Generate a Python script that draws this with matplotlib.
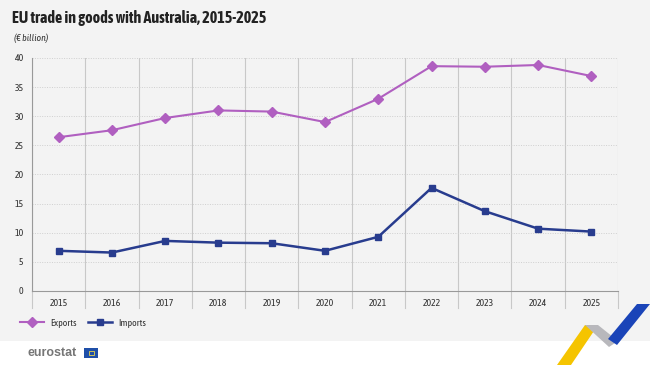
import matplotlib.pyplot as plt
from matplotlib.patches import Polygon, Rectangle

years = ['2015', '2016', '2017', '2018', '2019', '2020', '2021', '2022', '2023', '2024', '2025']
exports = [26.4, 27.6, 29.7, 31.0, 30.8, 29.0, 33.0, 38.6, 38.5, 38.8, 36.9]
imports = [6.9, 6.6, 8.6, 8.3, 8.2, 6.9, 9.3, 17.7, 13.7, 10.7, 10.2]

FONT = ['Asap Condensed', 'Liberation Sans', 'DejaVu Sans']
plt.rcParams['font.family'] = FONT

W, H = 650, 365
fig = plt.figure(figsize=(W / 100, H / 100), dpi=100)
fig.patch.set_facecolor('white')


def px(x, y):
    return (x / W, 1 - y / H)


# light grey panel behind chart
fig.patches.append(Rectangle((0, px(0, 341)[1]), 1, 1, transform=fig.transFigure,
                             facecolor='#f3f3f3', edgecolor='none', zorder=-10))

ax = fig.add_axes([32 / W, 1 - 291 / H, 586 / W, 233 / H])
ax.set_facecolor('#f3f3f3')

x = list(range(len(years)))
ax.plot(x, exports, color='#b05fc0', lw=1.5, marker='D', ms=5, label='Exports', zorder=3)
ax.plot(x, imports, color='#283c8e', lw=1.8, marker='s', ms=5, label='Imports', zorder=3)

ax.set_xlim(-0.5, len(years) - 0.5)
ax.set_ylim(0, 40)
ax.set_yticks(range(0, 41, 5))
ax.set_xticks(x)
ax.set_xticklabels(years)
ax.tick_params(axis='x', length=0, labelsize=7, colors='#333333', pad=6)
ax.tick_params(axis='y', length=0, labelsize=7, colors='#333333', pad=6)

# boundaries between categories
for b in [i - 0.5 for i in range(len(years) + 1)]:
    ax.axvline(b, color='#c8c8c8', lw=0.8, zorder=1)
    ax.plot([b, b], [0, -0.075], transform=ax.get_xaxis_transform(), clip_on=False,
            color='#c8c8c8', lw=0.8)
for v in range(5, 41, 5):
    ax.axhline(v, color='#cfcfcf', lw=0.7, ls=(0, (1, 1.5)), zorder=1)

for s in ['top', 'right']:
    ax.spines[s].set_visible(False)
ax.spines['left'].set_color('#999999')
ax.spines['bottom'].set_color('#999999')
ax.spines['left'].set_linewidth(0.8)
ax.spines['bottom'].set_linewidth(0.8)

fig.text(12 / W, px(0, 18)[1], 'EU trade in goods with Australia, 2015-2025', fontsize=11.5,
         fontweight='bold', color='#222222', va='center')
fig.text(14 / W, px(0, 38)[1], '(€ billion)', fontsize=7, style='italic', color='#333333', va='center')

fig.legend(loc='center left', bbox_to_anchor=px(11, 323), ncol=2, frameon=False,
           fontsize=7, handlelength=2.5, columnspacing=1.2, handletextpad=0.6,
           labelcolor='#333333')

# eurostat footer
fig.text(27 / W, px(0, 353)[1], 'eurostat', fontsize=9, color='#767676', va='center',
         family=['Liberation Sans', 'DejaVu Sans'], fontweight='bold')
fig.patches.append(Rectangle(px(84, 358), 14 / W, 10 / H, transform=fig.transFigure,
                             facecolor='#1f4fa8', edgecolor='none'))
fig.patches.append(Rectangle(px(89, 355), 5 / W, 4 / H, transform=fig.transFigure,
                             facecolor='none', edgecolor='#e8d44d', lw=0.6))

# corner decoration
shapes = [
    ([(557, 365), (571, 365), (598, 325), (585, 325)], '#f5c400'),
    ([(585, 325), (598, 325), (618, 341), (609, 347)], '#b8b8bc'),
    ([(608, 339), (617, 345), (650, 304), (637, 304)], '#1a44b8'),
]
for pts, col in shapes:
    fig.patches.append(Polygon([px(*p) for p in pts], closed=True, transform=fig.transFigure,
                               facecolor=col, edgecolor='none'))

fig.savefig('out.png', dpi=100)
